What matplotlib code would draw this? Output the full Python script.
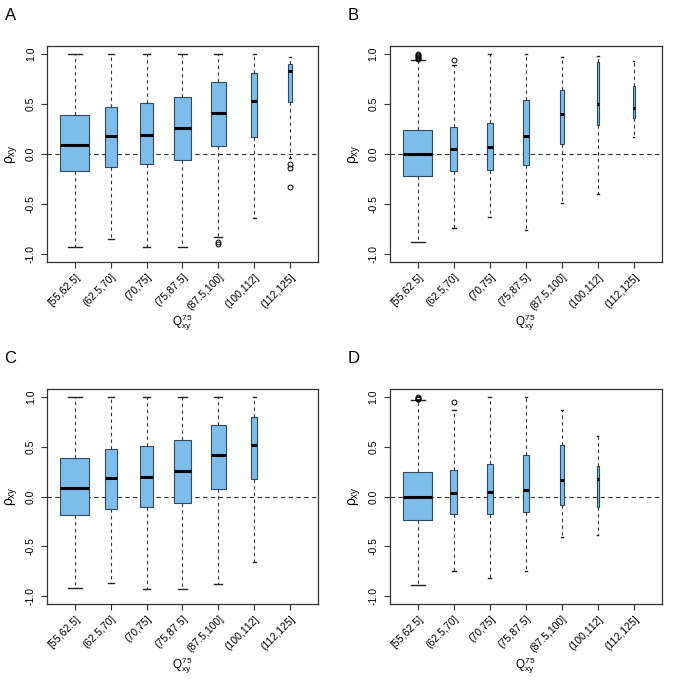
import matplotlib
matplotlib.use('Agg')
import matplotlib.pyplot as plt

plt.rcParams['font.family'] = ['Liberation Sans', 'DejaVu Sans']
plt.rcParams['mathtext.fontset'] = 'custom'
plt.rcParams['mathtext.rm'] = 'Liberation Sans'
plt.rcParams['mathtext.it'] = 'Liberation Sans'
plt.rcParams['axes.unicode_minus'] = False

labels = ['[55,62.5]', '(62.5,70]', '(70,75]', '(75,87.5]',
          '(87.5,100]', '(100,112]', '(112,125]']

# panel A
A_q1 = [-0.172, -0.125, -0.102, -0.055, 0.082, 0.172, 0.523]
A_med = [0.088, 0.185, 0.195, 0.262, 0.409, 0.533, 0.826]
A_q3 = [0.386, 0.472, 0.509, 0.569, 0.716, 0.813, 0.900]
A_lo = [-0.927, -0.850, -0.927, -0.927, -0.826, -0.643, -0.040]
A_hi = [1.0, 1.0, 1.0, 1.0, 1.0, 1.0, 0.970]
A_w = [0.81, 0.35, 0.38, 0.47, 0.43, 0.18, 0.09]
A_out = [[], [], [], [], [-0.88, -0.90], [], [-0.10, -0.14, -0.33]]

# panel B
B_q1 = [-0.219, -0.168, -0.162, -0.108, 0.098, 0.289, 0.359]
B_med = [0.0, 0.052, 0.075, 0.185, 0.405, 0.502, 0.456]
B_q3 = [0.242, 0.275, 0.315, 0.543, 0.643, 0.917, 0.683]
B_lo = [-0.88, -0.743, -0.63, -0.76, -0.49, -0.40, 0.175]
B_hi = [0.94, 0.893, 1.0, 1.0, 0.973, 0.983, 0.926]
B_w = [0.81, 0.20, 0.17, 0.15, 0.10, 0.08, 0.055]
B_out = [[0.95, 0.96, 0.97, 0.98, 0.99, 1.0], [0.943], [], [], [], [], []]

# panel C
C_q1 = [-0.183, -0.129, -0.109, -0.062, 0.072, 0.173]
C_med = [0.082, 0.183, 0.196, 0.253, 0.414, 0.514]
C_q3 = [0.384, 0.474, 0.511, 0.571, 0.712, 0.792]
C_lo = [-0.913, -0.863, -0.93, -0.93, -0.879, -0.652]
C_hi = [1.0, 1.0, 1.0, 1.0, 1.0, 1.0]
C_w = [0.81, 0.35, 0.36, 0.48, 0.43, 0.18]
C_out = [[], [], [], [], [], []]

# panel D
D_q1 = [-0.236, -0.176, -0.173, -0.156, -0.089, -0.109]
D_med = [-0.005, 0.039, 0.049, 0.062, 0.169, 0.173]
D_q3 = [0.246, 0.263, 0.323, 0.42, 0.514, 0.303]
D_lo = [-0.883, -0.749, -0.816, -0.749, -0.404, -0.387]
D_hi = [0.97, 0.87, 1.0, 1.0, 0.87, 0.608]
D_w = [0.81, 0.20, 0.17, 0.15, 0.09, 0.05]
D_out = [[0.975, 0.98, 0.99, 1.0], [0.943], [], [], [], []]

panels = [
    ('A', [0.0686, 0.6175, 0.3956, 0.3153], A_q1, A_med, A_q3, A_lo, A_hi, A_w, A_out),
    ('B', [0.569, 0.6175, 0.3975, 0.3153], B_q1, B_med, B_q3, B_lo, B_hi, B_w, B_out),
    ('C', [0.0686, 0.1178, 0.3956, 0.3147], C_q1, C_med, C_q3, C_lo, C_hi, C_w, C_out),
    ('D', [0.569, 0.1178, 0.3975, 0.3147], D_q1, D_med, D_q3, D_lo, D_hi, D_w, D_out),
]

fig = plt.figure(figsize=(6.85, 6.85), dpi=100)

for name, pos, q1, med, q3, lo, hi, w, out in panels:
    ax = fig.add_axes(pos)
    stats = []
    for i in range(len(q1)):
        stats.append({'q1': q1[i], 'med': med[i], 'q3': q3[i],
                      'whislo': lo[i], 'whishi': hi[i], 'fliers': out[i]})
    n = len(stats)
    ax.bxp(stats, positions=range(1, n + 1), widths=w,
           capwidths=[x * 0.5 for x in w], patch_artist=True,
           boxprops=dict(facecolor='#7dbdec', edgecolor='#34495e', linewidth=0.8),
           medianprops=dict(color='black', linewidth=2.2),
           whiskerprops=dict(color='#333333', linestyle=(0, (3, 3)), linewidth=0.8),
           capprops=dict(color='#222222', linewidth=1.0),
           flierprops=dict(marker='o', markersize=3.5, markerfacecolor='none',
                           markeredgecolor='black', markeredgewidth=0.7))
    ax.axhline(0, color='#333333', linestyle=(0, (4, 3)), linewidth=0.8, zorder=0)
    ax.set_xlim(0.22, 7.78)
    ax.set_ylim(-1.08, 1.08)
    ax.set_xticks(range(1, 8))
    ax.set_xticklabels(labels, rotation=45, ha='right', rotation_mode='anchor', fontsize=7.6,
                       family=['Liberation Sans Narrow', 'Liberation Sans'])
    ax.set_yticks([-1.0, -0.5, 0.0, 0.5, 1.0])
    ax.set_yticklabels(['-1.0', '-0.5', '0.0', '0.5', '1.0'], rotation=90, va='center', fontsize=7.5)
    ax.tick_params(axis='both', length=4, width=0.8, color='#333333', pad=4)
    ax.tick_params(axis='x', pad=3)
    for s in ax.spines.values():
        s.set_color('#333333')
        s.set_linewidth(0.9)
    ax.set_ylabel(r'$\rho_{xy}$', fontsize=10)
    ax.yaxis.set_label_coords(-0.10, 0.5)
    ax.set_xlabel(r'$Q_{xy}^{75}$', fontsize=8.5)
    ax.xaxis.set_label_coords(0.5, -0.235)
    ax.text(pos[0] - 0.062, pos[1] + pos[3] + 0.055, name, transform=fig.transFigure,
            fontsize=12, ha='left', va='top')

fig.savefig('out.png', dpi=100)
